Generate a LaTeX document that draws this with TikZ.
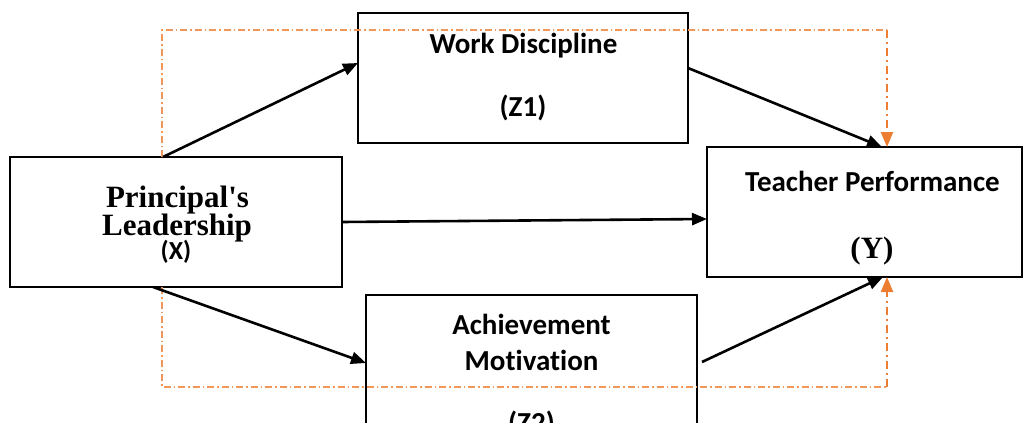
\documentclass[tikz,border=0pt]{standalone}
\usepackage{fontspec}
\newfontfamily\labelsans{Carlito}[Ligatures={NoCommon}]
\newfontfamily\labelserif{Liberation Serif}
\usetikzlibrary{arrows.meta}
\definecolor{accent}{HTML}{ED7D31}
\begin{document}
\begin{tikzpicture}[x=1pt,y=-1pt,
  box/.style={draw=black,line width=2.3pt,rectangle,inner sep=0pt,outer sep=0pt},
  sanslabel/.style={font=\labelsans\bfseries\fontsize{29}{31}\selectfont,anchor=base,inner sep=0pt},
  seriflabel/.style={font=\labelserif\bfseries\fontsize{31}{33}\selectfont,anchor=base,inner sep=0pt},
  link/.style={line width=2.6pt,-{Triangle[length=15pt,width=12pt]}},
  guide/.style={accent!80,line width=1.2pt,dash pattern=on 7pt off 3pt on 1.5pt off 3pt},
  guidearrow/.style={accent,line width=2.2pt,dash pattern=on 8pt off 4pt on 2pt off 4pt,-{Triangle[length=15pt,width=12pt]}}]
\useasboundingbox (0,0) rectangle (1026,423);
\clip (0,0) rectangle (1026,423);

% boxes
\node[box,minimum width=332pt,minimum height=130pt] (x) at (176,222) {};
\node[box,minimum width=330pt,minimum height=130pt] (z1) at (523,78) {};
\node[box,minimum width=315pt,minimum height=130pt] (y) at (864.5,212) {};
\node[box,minimum width=331pt,minimum height=130pt] (z2) at (531.5,360) {};

% labels
\node[sanslabel] (z1a) at (523.5,53) {Work Discipline};
\node[sanslabel] (z1b) at (523,116) {(Z1)};
\node[seriflabel] (xa) at (177.5,207) {Principal's};
\node[seriflabel] (xb) at (177,235) {Leadership};
\node[sanslabel,font=\labelsans\bfseries\fontsize{26}{28}\selectfont] (xc) at (176,259) {(X)};
\node[sanslabel] (ya) at (872.5,191) {Teacher Performance};
\node[seriflabel] (yb) at (872,258) {(Y)};
\node[sanslabel] (z2a) at (531.5,334) {Achievement};
\node[sanslabel] (z2b) at (531.5,370) {Motivation};
\node[sanslabel] (z2c) at (531.5,432) {(Z2)};

% dash-dotted frame leading into Y
\coordinate (gtr) at (887,30);
\coordinate (gbr) at (887,387);
\draw[guide] ([xshift=152pt]x.north west) |- (gtr);
\draw[guide] ([xshift=152pt]x.south west) |- (gbr);
\draw[guidearrow] (gtr) -- (gtr |- y.north);
\draw[guidearrow] (gbr) -- (gbr |- y.south);

% paths
\draw[link] ([xshift=153pt]x.north west) -- ([yshift=-50pt]z1.north west);
\draw[link] ([yshift=-55pt]z1.north east) -- ([xshift=175pt]y.north west);
\draw[link] (x.east) -- ([yshift=-72pt]y.north west);
\draw[link] ([xshift=143pt]x.south west) -- ([yshift=-68pt]z2.north west);
\draw[link] ([xshift=5pt,yshift=-67pt]z2.north east) -- ([xshift=176pt]y.south west);
\end{tikzpicture}
\end{document}
